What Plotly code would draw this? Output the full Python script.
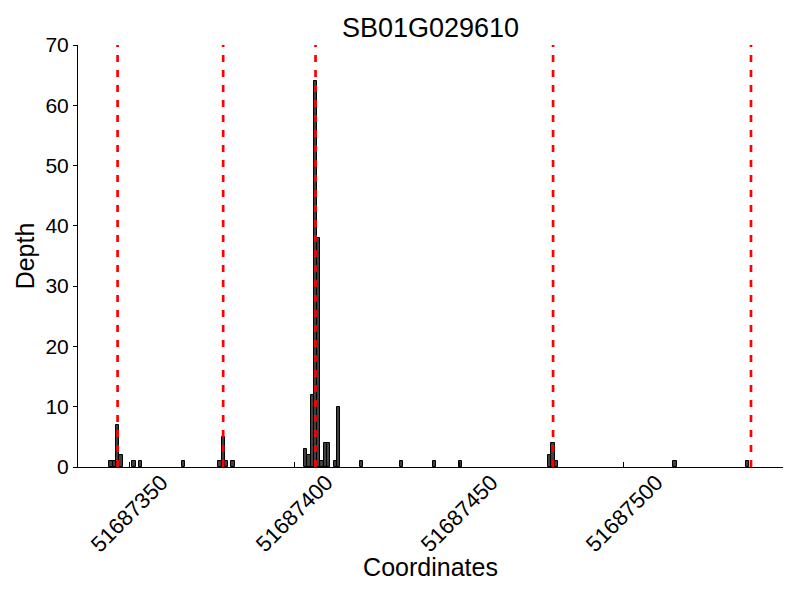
import plotly.graph_objects as go

# Data
positions = [51687344, 51687345, 51687346, 51687347, 51687351, 51687353, 51687366,
             51687377, 51687378, 51687379, 51687381,
             51687403, 51687404, 51687405, 51687406, 51687407, 51687408, 51687409,
             51687410, 51687412, 51687413, 51687420,
             51687432, 51687442, 51687450,
             51687477, 51687478, 51687479, 51687515, 51687537]
depths = [1, 1, 7, 2, 1, 1, 1,
          1, 5, 1, 1,
          3, 2, 12, 64, 38, 1, 4,
          4, 1, 10, 1,
          1, 1, 1,
          2, 4, 1, 1, 1]
exon_marks = [51687346.5, 51687378.5, 51687406.5, 51687478.5, 51687538.5]
x_ticks = [51687350, 51687400, 51687450, 51687500]
y_ticks = [0, 10, 20, 30, 40, 50, 60, 70]

FONT = "Liberation Sans, Arial, Helvetica, sans-serif"

fig = go.Figure()
fig.add_trace(go.Bar(
    x=positions, y=depths, width=1, offset=0,
    marker=dict(color="#404040", line=dict(color="black", width=1)),
    showlegend=False,
))

for xm in exon_marks:
    fig.add_shape(type="line", x0=xm, x1=xm, y0=0, y1=1, xref="x", yref="paper",
                  line=dict(color="#ff0000", width=2.7, dash="7px,8px"), layer="above")

for t in x_ticks:
    fig.add_annotation(x=t, y=0, xref="x", yref="paper", text=str(t), showarrow=False,
                       textangle=-45, xanchor="center", yanchor="middle", yshift=-46,
                       font=dict(family=FONT, size=22, color="black"))

# page body has an 8px default margin, so margins are compensated
fig.update_layout(
    width=800, height=600,
    margin=dict(l=70, r=25, t=37, b=141),
    paper_bgcolor="white", plot_bgcolor="white",
    font=dict(family=FONT, color="black"),
    title=dict(text="SB01G029610", x=0.5, xref="paper", y=1 - 20 / 600, yref="container",
               xanchor="center", yanchor="middle", font=dict(family=FONT, size=27, color="black")),
    xaxis=dict(range=[51687334.5, 51687548.2], tickvals=x_ticks, showticklabels=False,
               ticks="inside", ticklen=5, tickcolor="black", showline=True, linecolor="black",
               linewidth=1, showgrid=False, zeroline=False, automargin=False,
               title=dict(text="Coordinates", standoff=91, font=dict(family=FONT, size=25, color="black"))),
    yaxis=dict(range=[0, 70], tickvals=y_ticks, ticks="outside", ticklen=4, tickcolor="black",
               showline=True, linecolor="black", linewidth=1, showgrid=False, zeroline=False,
               tickfont=dict(family=FONT, size=21, color="black"), automargin=False,
               title=dict(text="Depth", standoff=3, font=dict(family=FONT, size=25, color="black"))),
    bargap=0,
)

fig.write_html("out.html")
